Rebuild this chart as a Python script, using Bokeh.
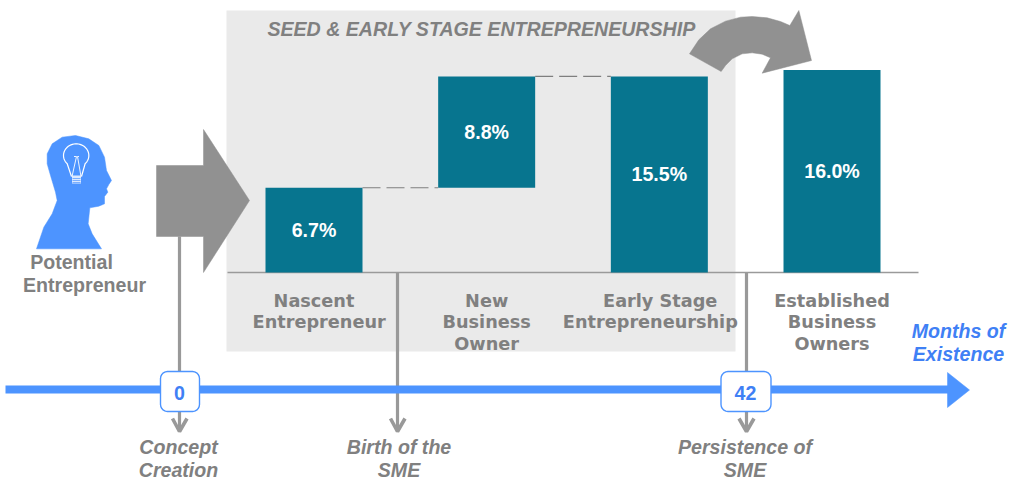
import numpy as np
from bokeh.plotting import figure
from bokeh.models import Range1d, ColumnDataSource
from bokeh.core.properties import value
from bokeh.embed import file_html
from bokeh.resources import INLINE

categories = ["Nascent\nEntrepreneur", "New\nBusiness\nOwner", "Early Stage\nEntrepreneurship", "Established\nBusiness\nOwners"]
bar_bottom = [0.0, 6.7, 0.0, 0.0]
bar_value = [6.7, 8.8, 15.5, 16.0]
bar_label = ["6.7%", "8.8%", "15.5%", "16.0%"]
milestones = ["0", "42"]
milestone_text = ["Concept\nCreation", "Birth of the\nSME", "Persistence of\nSME"]

FONT = value("Liberation Sans")
TEAL, GREY, TXT, BLUE, BLUETXT = "#07758F", "#919191", "#808080", "#4D94FF", "#3F80F5"

W, H = 1013, 480
PX = 172.67   # pixels per category
PY = 12.65    # pixels per percent
p = figure(width=W, height=H, output_backend="svg", toolbar_location=None,
           x_range=Range1d((0 - 313.5) / PX, (W - 313.5) / PX),
           y_range=Range1d((272 - H) / PY, (272 - 0) / PY),
           min_border=0, outline_line_color=None)
p.extra_x_ranges["px"] = Range1d(0, W)
p.extra_y_ranges["px"] = Range1d(H, 0)
p.axis.visible = False
p.xgrid.visible = False
p.ygrid.visible = False
PXR = dict(x_range_name="px", y_range_name="px")
YPX = dict(y_range_name="px")


def poly(pts, color, **kw):
    xs, ys = zip(*pts)
    p.patch(list(xs), list(ys), fill_color=color, line_color=color, line_width=0.5, **PXR, **kw)


def rounded(x0, y0, x1, y1, r):
    t = np.linspace(0, np.pi / 2, 6)
    s, c = np.sin(t), np.cos(t)
    xs = np.r_[x1 - r + r * s, x1 - r + r * c, x0 + r - r * s, x0 + r - r * c]
    ys = np.r_[y0 + r - r * c, y1 - r + r * s, y1 - r + r * c, y0 + r - r * s]
    return xs.tolist(), ys.tolist()


def label(x, y, s, size=19.6, color=TXT, style="bold", step=22, font=FONT, dx=None, **kw):
    """One text per line; y is the centre of the first line."""
    for k, line in enumerate(s.split("\n")):
        off = dx[k] if dx else 0
        p.text([x + off], [y + k * step], text=[line], text_font=font, text_font_size=f"{size}px",
               text_font_style=style, text_color=color, text_align="center", text_baseline="middle", **kw)


# shaded panel
p.quad(left=[226], right=[735], top=[10], bottom=[351], fill_color="#EAEAEA", line_color=None, **PXR)
label(481, 28, "SEED & EARLY STAGE ENTREPRENEURSHIP", style="bold italic", **PXR)

# vertical stems
stem_col = "#999999"
p.multi_line([[179, 179], [397, 397], [746, 746]], [[236, 431], [272, 431], [272, 431]],
             line_color=stem_col, line_width=3.2, **PXR)
p.multi_line([[172, 179, 186.5], [390, 397, 404.5], [738.5, 746, 753.5]],
             [[418, 431, 418]] * 3, line_color=stem_col, line_width=3.6, **PXR)

# timeline
p.quad(left=[5], right=[948], top=[385], bottom=[393], fill_color=BLUE, line_color=None, **PXR)
poly([(947, 372), (969, 389.5), (947, 407)], BLUE)

# milestone boxes
for x0, x1, s in [(160, 199, milestones[0]), (720.5, 770.5, milestones[1])]:
    xs, ys = rounded(x0, 371, x1, 411, 7)
    p.patch(xs, ys, fill_color="white", line_color=BLUE, line_width=1.4, **PXR)
    label((x0 + x1) / 2 - 0.5, 392, s, color=BLUETXT, **PXR)

# baseline
p.line([227, 918], [272, 272], line_color="#9A9A9A", line_width=1.4, **PXR)

# bars
idx = np.arange(4)
top = [b + v for b, v in zip(bar_bottom, bar_value)]
src = ColumnDataSource(dict(x=idx, bottom=bar_bottom, top=top, lab=bar_label,
                            mid=[(b + t) / 2 for b, t in zip(bar_bottom, top)]))
BW = 97 / PX
p.vbar(x="x", bottom="bottom", top="top", width=BW, fill_color=TEAL, line_color=None, source=src)
p.text(x="x", y="mid", text="lab", source=src, text_color="white", text_font=FONT, text_font_size="19.6px",
       text_font_style="bold", text_align="center", text_baseline="middle")

# dashed connectors between steps
p.multi_line([[idx[0] + BW / 2, idx[1] - BW / 2], [idx[1] + BW / 2, idx[2] - BW / 2]],
             [[top[0], top[0]], [top[1], top[1]]], line_color="#7F7F7F", line_width=1.2, line_dash="18 6")

# category labels
line_dx = [[0, 0.03], [0, 0, 0], [0.005, -0.052], [0, 0, 0]]
for i, c in enumerate(categories):
    label(i, 300, c, size=17.7, step=21.5, font=value("DejaVu Sans"), dx=line_dx[i], **YPX)

# big grey arrow
poly([(156, 165), (203, 165), (203, 129), (249, 200), (203, 272), (203, 236), (156, 236)], GREY)

# curved arrow
curve = [(87, 160), (115, 118), (150, 85), (195, 62), (240, 50), (275, 48), (320, 52), (360, 63), (388, 75),
         (415, 30), (453, 180), (305, 218), (330, 172), (305, 161), (275, 157), (245, 160), (215, 175),
         (195, 195), (182, 213)]
poly([(660 + a / 3, b / 3) for a, b in curve], GREY)

# person silhouette
head = [(108, 385), (130, 320), (155, 280), (170, 240), (165, 215), (150, 165), (140, 130), (140, 100), (155, 70),
        (185, 50), (225, 45), (265, 55), (295, 75), (312, 110), (318, 150), (333, 180), (325, 192), (318, 205),
        (322, 215), (312, 228), (312, 250), (295, 257), (268, 262), (263, 310), (275, 340), (303, 385)]
poly([(a / 3, 120 + b / 3) for a, b in head], BLUE)
ang = np.linspace(np.radians(-225), np.radians(45), 40)
outline_x = [71] + ((227 + 38 * np.cos(ang)) / 3).tolist() + [81]
outline_y = [176] + (155 + 35 * np.sin(ang) / 3).tolist() + [176]
p.line(outline_x, outline_y, line_color="white", line_width=1.2, **PXR)
p.quad(left=[71.5], right=[80.5], top=[175], bottom=[183], fill_color="#DCE9FF", line_color=None, **PXR)
p.multi_line([[72, 80], [72, 80], [72, 80], [71.5, 76, 73.5], [80.5, 77, 78.5]],
             [[178, 178], [180, 180], [182, 182], [176, 156, 156], [176, 156, 156]],
             line_color=["#6FA8FF", "#6FA8FF", "#6FA8FF", "white", "white"], line_width=0.9, **PXR)
label(84, 261.5, "Potential\nEntrepreneur", step=23, dx=[-13, 0], **PXR)

# timeline labels
label(958, 330.5, "Months of\nExistence", step=23, color=BLUETXT, style="bold italic", **PXR)
for x, s in zip([178, 398.5, 744.5], milestone_text):
    label(x, 446.5, s, step=22.5, style="bold italic", **PXR)

open("out.html", "w").write(file_html(p, INLINE))
